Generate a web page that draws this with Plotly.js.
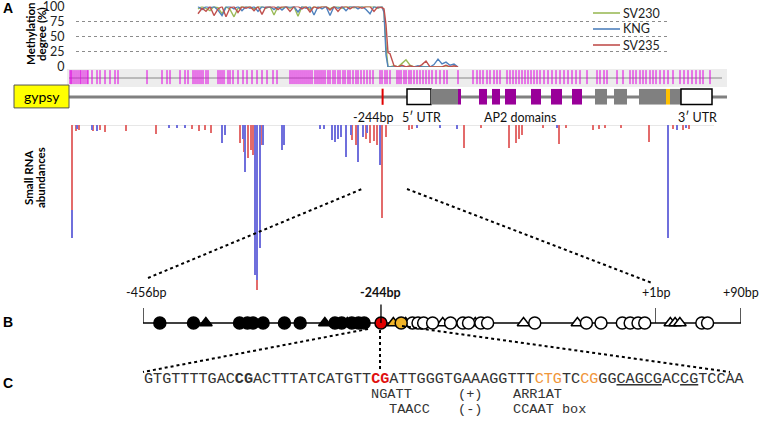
<!DOCTYPE html>
<html><head><meta charset="utf-8">
<script src="https://cdn.plot.ly/plotly-3.0.1.min.js"></script>
<style>html,body{margin:0;padding:0;background:#fff}#chart{width:759px;height:422px}</style>
</head><body><div id="chart"></div>
<script>
// ---------------- DATA ----------------
// Panel A: methylation degree (%) along the region, positions in bp relative to TSS
const methPos = [-2090,-2050,-2010,-1970,-1930,-1890,-1850,-1810,-1770,-1730,-1690,-1650,-1610,-1570,-1530,-1490,-1450,-1410,-1370,-1330,-1290,-1250,-1210,-1170,-1130,-1090,-1050,-1010,-970,-930,-890,-850,-810,-770,-730,-690,-650,-610,-570,-530,-490,-450,-410,-370,-330,-290,-250,-230,-210,-190,-170,-130,-90,-50,-10,30,70,110,150,190,230,270,310,350,390,430,470,510];
const methSV230 = [96,100,97,93,100,98,88,100,95,83,97,100,99,100,96,100,100,97,100,86,100,98,100,97,100,84,100,100,95,100,98,100,100,96,100,100,97,100,100,98,100,100,99,100,100,97,100,92,35,0,0,2,0,6,12,3,0,0,1,0,0,0,0,0,0,0,0,0];
const methKNG   = [100,95,100,98,100,94,85,99,100,96,100,93,100,97,100,92,100,98,100,95,100,94,100,99,100,91,100,97,100,86,100,96,100,85,100,97,100,93,100,100,96,100,95,88,100,98,100,90,20,0,0,0,0,0,0,0,0,2,0,0,0,4,13,5,8,3,5,0];
const methSV235 = [88,97,92,100,85,96,100,83,98,100,90,100,97,100,93,100,87,100,99,100,95,100,100,92,100,100,96,100,91,100,97,100,100,94,100,92,100,100,96,100,100,97,100,100,92,100,98,96,70,24,22,2,0,3,0,2,0,0,4,10,0,0,0,0,3,0,2,0];
const seriesNames = ['SV230','KNG','SV235'];

// cytosine sites (magenta barcode), bp
const cSites = [-3370,-3360,-3350,-3330,-3310,-3290,-3270,-3260,-3240,-3220,-3200,-3190,-3150,-3100,-3070,-3020,-2970,-2920,-2890,-2600,-2450,-2400,-2370,-2270,-2220,-2190,-2140,-2120,-2100,-2080,-2060,-2040,-2010,-1990,-1890,-1870,-1850,-1830,-1790,-1770,-1740,-1690,-1640,-1600,-1550,-1500,-1450,-1400,-1340,-1300,-1170,-1150,-1130,-1110,-1090,-1070,-1050,-1030,-1010,-990,-970,-950,-920,-900,-880,-860,-840,-820,-790,-770,-740,-720,-690,-670,-640,-620,-590,-570,-540,-510,-490,-460,-430,-400,-370,-340,-270,-250,-220,-200,-170,-100,-80,-60,-30,-10,20,40,70,100,130,160,190,220,250,290,330,370,400,510,660,700,730,760,800,830,870,900,930,1000,1030,1060,1090,1120,1150,1180,1210,1240,1270,1300,1330,1370,1410,1450,1490,1530,1570,1610,1650,1690,1730,1800,1900,1930,1970,2000,2100,2160,2230,2260,2290,2330,2360,2390,2430,2460,2490,2530,2570,2610,2660,2730,2770,2810,2850,2890,2930,2960,3030];

// gene model, bp
const regionSpan = [-3380, 3130];
const gypsySpan = [-3930, -3380];
const featStart = [0, 240, 510, 720, 850, 980, 1240, 1440, 1650, 1880, 2070, 2320, 2590, 2630, 2740];
const featEnd   = [240, 510, 540, 800, 930, 1090, 1340, 1550, 1750, 2000, 2200, 2590, 2630, 2740, 3050];
const featType  = ['UTR','exon','AP2','AP2','AP2','AP2','AP2','AP2','AP2','exon','exon','exon','mark','exon','UTR'];
const siteOfInterest = -244;
const geneLabelText = ['-244bp', '5\u2032 UTR', 'AP2 domains', '3\u2032 UTR'];
const geneLabelPos  = [-340, 140, 1130, 2900];

// small RNA abundances (reads, drawn downward)
const sRnaSensePos = [-3350,-3310,-3280,-3140,-3070,-3020,-2810,-2510,-2150,-2080,-2020,-1960,-1670,-1630,-1590,-1560,-1540,-1500,-1450,-550,-510,-410,-370,-330,-300,-250,-210,20,50,330,570,740,1020,1090,1120,1150,1360,1520,1590,1860,1920,1980,2140,2420,2660,2760,2820];
const sRnaSenseVal = [113,6,5,6,5,7,6,9,4,6,5,8,18,27,33,25,30,165,20,15,20,14,18,16,20,93,12,5,4,3,23,3,23,18,14,10,3,19,3,5,4,3,3,17,4,5,4];
const sRnaAntiPos = [-3350,-3300,-3150,-3100,-2380,-2300,-2220,-1850,-1820,-1640,-1620,-1520,-1500,-1470,-1440,-1250,-1230,-870,-830,-750,-720,-690,-660,-610,-560,-490,-440,-400,-270,100,330,500,1500,2610,2700,2790];
const sRnaAntiStart = [85,0,0,0,0,0,0,0,0,0,0,0,0,0,0,0,0,0,0,0,0,0,0,0,0,0,0,0,0,0,0,0,0,0,0,0];
const sRnaAntiVal = [28,4,5,6,3,3,3,18,10,14,47,150,155,123,20,25,20,4,4,15,17,14,12,32,10,37,12,8,40,3,3,4,3,113,5,3];

// Panel B: cytosine methylation states, bp
const bMethCG  = [-441,-411,-370,-363,-358,-349,-330,-316,-285,-279,-270,-264,-259];
const bMethNonCG = [-400,-294,-274];
const bTarget = [-244];
const bPartialNonCG = [-233];
const bPartialCG = [-226];
const bUnmethNonCG = [-222,-189,-160,-117,-69];
const bUnmethCG = [-216,-211,-206,-198,-182,-171,-166,-155,-149,-107,-61,-48,-29,-22,-15,-9];
const bUnmethNonCG3 = [16,21,26];
const bUnmethCG3 = [49,55];
const bTicks = [-456, -244, 1, 90];
const bTickLabels = ['-456bp', '-244bp', '+1bp', '+90bp'];

// Panel C: sequence
const seqParts = ['GTGTTTTGAC','CG','ACTTTATCATGTT','CG','ATTGGGTGAAAGGTTT','CTG','TC','CG','GG','CAGCG','AC','CG','TCCAA'];
const seqStyle = ['plain','bold','plain','target','plain','ctx','plain','ctx','plain','motif','plain','motif','plain'];
const motifSeq = ['NGATT', 'TAACC'];
const motifStart = [25, 27];
const motifStrand = ['(+)', '(-)'];
const motifName = ['ARR1AT', 'CCAAT box'];

// ---------------- LAYOUT HELPERS ----------------
const W = 759, H = 422;
const fx = p => p / W;
const fy = p => 1 - p / H;
const LAB = 'Lato, "Liberation Sans", sans-serif';
const MONO = '"Liberation Mono", monospace';

const traces = [];
const lineColors = ['#9bbb59', '#4f81bd', '#c0504d'];
[methSV230, methKNG, methSV235].forEach((v, i) => {
  traces.push({type:'scatter', mode:'lines', x: methPos, y: v, name: seriesNames[i], showlegend:false,
    xaxis:'x', yaxis:'y', cliponaxis:false, line:{color: lineColors[i], width:1.4}});
});
traces.push({type:'scatter', mode:'markers', x: cSites, y: cSites.map(() => 0.55), xaxis:'x2', yaxis:'y2',
  showlegend:false, marker:{symbol:'line-ns', size:10, line:{color:'#e000e0', width:1}}});
traces.push({type:'bar', x: sRnaSensePos, y: sRnaSenseVal, base: sRnaSensePos.map(() => 0), xaxis:'x2', yaxis:'y4',
  width: 22, showlegend:false, marker:{color:'#e36b6b', line:{width:0}}});
traces.push({type:'bar', x: sRnaAntiPos, y: sRnaAntiVal, base: sRnaAntiStart, xaxis:'x2', yaxis:'y4',
  width: 22, showlegend:false, marker:{color:'#6f6fdc', line:{width:0}}});

// Panel B line
traces.push({type:'scatter', mode:'lines', x:[bTicks[0], bTicks[2]], y:[0,0], xaxis:'x3', yaxis:'y5', showlegend:false, line:{color:'#000', width:1.6}});
traces.push({type:'scatter', mode:'lines', x:[bTicks[2], bTicks[3]], y:[0,0], xaxis:'x4', yaxis:'y6', showlegend:false, line:{color:'#000', width:1.6}});
function mk(xs, ax, ay, symbol, fill, size) {
  traces.push({type:'scatter', mode:'markers', x: xs, y: xs.map(() => 0), xaxis: ax, yaxis: ay, showlegend:false,
    cliponaxis:false, marker:{symbol: symbol, size: size, color: fill, line:{color:'#000', width:1.5}}});
}
mk(bMethCG, 'x3', 'y5', 'circle', '#000', 12);
mk(bMethNonCG, 'x3', 'y5', 'triangle-up', '#000', 11);
mk(bUnmethNonCG, 'x3', 'y5', 'triangle-up', '#fff', 11);
mk(bUnmethCG, 'x3', 'y5', 'circle', '#fff', 12);
mk(bPartialNonCG, 'x3', 'y5', 'triangle-up', '#f0b429', 11);
mk(bPartialCG, 'x3', 'y5', 'circle', '#f0b429', 12);
mk(bTarget, 'x3', 'y5', 'circle', '#e00000', 12);
mk(bUnmethNonCG3, 'x4', 'y6', 'triangle-up', '#fff', 11);
mk(bUnmethCG3, 'x4', 'y6', 'circle', '#fff', 12);

// ---------------- SHAPES ----------------
const shapes = [];
shapes.push({type:'rect', xref:'x2', yref:'y2', x0: regionSpan[0]-20, x1: regionSpan[1]+70, y0:0, y1:1, fillcolor:'#ededed', line:{width:0}, layer:'below'});
shapes.push({type:'line', xref:'x2', yref:'y2', x0: regionSpan[0], x1: regionSpan[1]+20, y0:0.5, y1:0.5, line:{color:'#888', width:1}, layer:'below'});
shapes.push({type:'line', xref:'x2', yref:'y3', x0: regionSpan[0], x1: regionSpan[1]+70, y0:0.5, y1:0.5, line:{color:'#808080', width:3}, layer:'below'});
shapes.push({type:'rect', xref:'x2', yref:'y3', x0: gypsySpan[0], x1: gypsySpan[1], y0:0.08, y1:0.96, fillcolor:'#ffff00', line:{color:'#555', width:1}});
const featFill = {UTR:'#ffffff', exon:'#808080', AP2:'#990099', mark:'#ffc000'};
featStart.forEach((s, i) => {
  const t = featType[i];
  shapes.push({type:'rect', xref:'x2', yref:'y3', x0:s, x1:featEnd[i], y0:0.21, y1:0.81,
    fillcolor: featFill[t], line: t === 'UTR' ? {color:'#000', width:1.5} : {width:0}});
});
shapes.push({type:'line', xref:'x2', yref:'y3', x0: siteOfInterest, x1: siteOfInterest, y0:0.2, y1:0.82, line:{color:'#e00000', width:2}});
shapes.push({type:'line', xref:'x2', yref:'y4', x0: regionSpan[0]+30, x1: regionSpan[1]-60, y0:0, y1:0, line:{color:'#d0d0d0', width:1}, layer:'below'});
const tickH = [0.75, 0.92, 0.75, 0.75];
bTicks.forEach((t, i) => {
  const ax = i === 3 ? 'x4' : 'x3', ay = i === 3 ? 'y6' : 'y5';
  shapes.push({type:'line', xref: ax, yref: ay, x0:t, x1:t, y0:0, y1: tickH[i], line:{color:'#000', width:1.3}});
});
function dot(x0, y0, x1, y1) {
  shapes.push({type:'line', xref:'paper', yref:'paper', x0: fx(x0), y0: fy(y0), x1: fx(x1), y1: fy(y1), line:{color:'#000', width:2, dash:'dot'}});
}
dot(148, 278, 362, 189);
dot(407, 189, 652, 283);
dot(368, 329, 143, 372);
dot(402, 326, 730, 372);
dot(380, 330, 380, 372);

// ---------------- ANNOTATIONS ----------------
const ann = [];
function txt(x, y, t, o) {
  ann.push(Object.assign({xref:'paper', yref:'paper', x: fx(x), y: fy(y), text: t, showarrow:false,
    xanchor:'center', yanchor:'middle', borderpad:0, font:{family: LAB, size:13, color:'#111'}}, o || {}));
}
seriesNames.forEach((n, i) => {
  const yy = 13 + 16 * i;
  shapes.push({type:'line', xref:'paper', yref:'paper', x0: fx(593), x1: fx(620), y0: fy(yy), y1: fy(yy), line:{color: lineColors[i], width:1.6}});
  txt(622, yy, n, {xanchor:'left', font:{family: LAB, size:12.5, color:'#222'}});
});
txt(8, 8, '<b>A</b>', {font:{family:'"Liberation Sans", Arial', size:14, color:'#000'}});
txt(8, 322, '<b>B</b>', {font:{family:'"Liberation Sans", Arial', size:14, color:'#000'}});
txt(8, 383, '<b>C</b>', {font:{family:'"Liberation Sans", Arial', size:14, color:'#000'}});
txt(30, 34, '<b>Methylation</b>', {textangle:-90, font:{family: LAB, size:11.5, color:'#000'}});
txt(41, 34, '<b>degree (%)</b>', {textangle:-90, font:{family: LAB, size:11.5, color:'#000'}});
txt(28, 178, '<b>Small RNA</b>', {textangle:-90, font:{family: LAB, size:11.5, color:'#000'}});
txt(40, 178, '<b>abundances</b>', {textangle:-90, font:{family: LAB, size:11.5, color:'#000'}});
ann.push({xref:'x2', yref:'y3', x:(gypsySpan[0]+gypsySpan[1])/2, y:0.52, text:'gypsy', showarrow:false, xanchor:'center',
  font:{family: LAB, size:14, color:'#000'}});
geneLabelText.forEach((t, i) => {
  ann.push({xref:'x2', yref:'paper', x: geneLabelPos[i], y: fy(117), text: t, showarrow:false, xanchor:'center', yanchor:'middle',
    font:{family: LAB, size:12.5, color:'#111'}});
});
bTicks.forEach((t, i) => {
  ann.push({xref: i === 3 ? 'x4' : 'x3', yref:'paper', x: t + (i === 0 ? 3 : 0), y: fy(292), text: i === 1 ? '<b>' + bTickLabels[i] + '</b>' : bTickLabels[i],
    showarrow:false, xanchor:'center', yanchor:'middle', font:{family: LAB, size:12.5, color:'#111'}});
});
const seqColor = {target:'#e01010', ctx:'#f0963a'};
const seqHtml = seqParts.map((p, i) => {
  const s = seqStyle[i];
  if (s === 'plain') return p;
  if (s === 'bold') return '<b>' + p + '</b>';
  if (s === 'target') return "<span style='color:" + seqColor.target + "'><b>" + p + '</b></span>';
  if (s === 'ctx') return "<span style='color:" + seqColor.ctx + "'>" + p + '</span>';
  return "<span style='text-decoration:underline'>" + p + '</span>';
}).join('');
const seqFont = 15.15, charW = seqFont * 0.6, seqX0 = 143;
txt(seqX0, 379, seqHtml, {xanchor:'left', font:{family: MONO, size: seqFont, color:'#333'}});
motifSeq.forEach((m, i) => {
  const yy = i === 0 ? 394 : 409;
  txt(seqX0 + motifStart[i] * charW, yy, m, {xanchor:'left', font:{family: MONO, size:13.6, color:'#333'}});
  txt(457, yy, motifStrand[i], {xanchor:'left', font:{family: MONO, size:13.6, color:'#333'}});
  txt(512, yy, motifName[i], {xanchor:'left', font:{family: MONO, size:13.6, color:'#333'}});
});

const hidden = {visible:false, fixedrange:true};
const layout = {
  width: W, height: H, margin:{l:0, r:0, t:0, b:0}, paper_bgcolor:'#fff', plot_bgcolor:'rgba(0,0,0,0)',
  showlegend:false, hovermode:false, barmode:'overlay', bargap:0,
  xaxis: Object.assign({domain:[fx(76), fx(667)], range:[-3310, 2600], anchor:'y'}, hidden),
  yaxis: {domain:[fy(67), fy(6.5)], range:[0, 100], anchor:'x', tickvals:[0,25,50,75,100], showgrid:true, gridcolor:'#8c8c8c', griddash:'dot', gridwidth:1,
    zeroline:false, showline:false, ticks:'outside', ticklen:8, tickcolor:'rgba(0,0,0,0)', ticklabeloverflow:'allow',
    tickfont:{family: LAB, size:12.5, color:'#222'}, fixedrange:true},
  xaxis2: Object.assign({domain:[0, 1], range:[-4070, 3520], anchor:'y2'}, hidden),
  yaxis2: Object.assign({domain:[fy(87), fy(69)], range:[0, 1], anchor:'x2'}, hidden),
  yaxis3: Object.assign({domain:[fy(110), fy(84)], range:[0, 1], anchor:'x2'}, hidden),
  yaxis4: Object.assign({domain:[fy(292), fy(125)], range:[167, 0], anchor:'x2'}, hidden),
  xaxis3: Object.assign({domain:[fx(143), fx(656)], range:[-456, 1], anchor:'y5'}, hidden),
  yaxis5: Object.assign({domain:[fy(343), fy(303)], range:[-1, 1], anchor:'x3'}, hidden),
  xaxis4: Object.assign({domain:[fx(656), fx(741)], range:[1, 90], anchor:'y6'}, hidden),
  yaxis6: Object.assign({domain:[fy(343), fy(303)], range:[-1, 1], anchor:'x4'}, hidden),
  shapes: shapes, annotations: ann
};
Plotly.newPlot('chart', traces, layout, {displayModeBar:false, staticPlot:true});
</script></body></html>
